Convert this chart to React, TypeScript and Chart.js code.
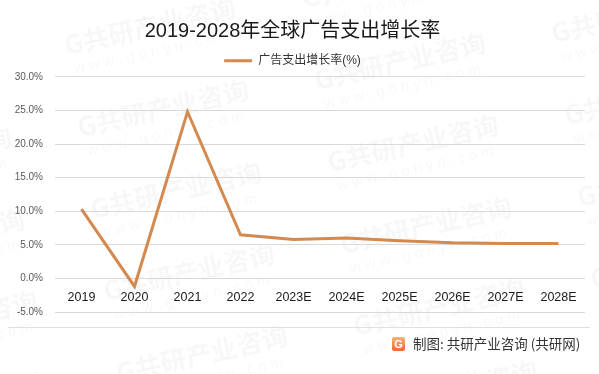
import React, { useEffect, useRef } from 'react';
import { Chart, registerables } from 'chart.js';

Chart.register(...registerables);

const categories = ['2019', '2020', '2021', '2022', '2023E', '2024E', '2025E', '2026E', '2027E', '2028E'];
const growthRates = [10.3, -1.2, 24.8, 6.5, 5.8, 6.0, 5.6, 5.3, 5.2, 5.2];
const yTicks = [-5, 0, 5, 10, 15, 20, 25, 30];
const titleText = '2019-2028年全球广告支出增长率';
const seriesLabel = '广告支出增长率(%)';
const sourceText = '制图: 共研产业咨询 (共研网)';
const watermarkMain = 'G共研产业咨询';
const watermarkSub = 'w w w . g o n y n . c o m';

const LINE_COLOR = '#D4894E';
const FONT = "'Liberation Sans', 'Noto Sans CJK SC', sans-serif";
const CJK_FONT = "'Noto Sans CJK SC', 'Liberation Sans', sans-serif";

const watermarkPlugin = {
  id: 'watermark',
  beforeDraw(chart: any) {
    const ctx = chart.ctx as CanvasRenderingContext2D;
    ctx.save();
    ctx.fillStyle = 'rgba(0,0,0,0.03)';
    const angle = (-12.7 * Math.PI) / 180;
    for (let c = -2; c <= 3; c++) {
      for (let r = -2; r <= 6; r++) {
        const x = 80 + c * 237 + r * 13;
        const y = 137 - c * 47 + r * 82;
        if (x < -250 || x > 640 || y < -40 || y > 460) continue;
        ctx.save();
        ctx.translate(x, y);
        ctx.rotate(angle);
        ctx.font = `bold 26px ${CJK_FONT}`;
        ctx.textBaseline = 'alphabetic';
        ctx.fillText(watermarkMain, 0, 0);
        ctx.font = `15px ${FONT}`;
        ctx.fillText(watermarkSub, 4, 20);
        ctx.restore();
      }
    }
    ctx.restore();
  },
};

const footerPlugin = {
  id: 'footer',
  afterDraw(chart: any) {
    const ctx = chart.ctx as CanvasRenderingContext2D;
    ctx.save();
    ctx.strokeStyle = '#E0E0E0';
    ctx.lineWidth = 1;
    ctx.beginPath();
    ctx.moveTo(8, 327.5);
    ctx.lineTo(590, 327.5);
    ctx.stroke();

    const lx = 392, ly = 337, lw = 13, lh = 14;
    const g = ctx.createLinearGradient(lx, ly, lx, ly + lh);
    g.addColorStop(0, '#F9B27A');
    g.addColorStop(1, '#EE6A2E');
    ctx.fillStyle = g;
    ctx.beginPath();
    (ctx as any).roundRect ? (ctx as any).roundRect(lx, ly, lw, lh, 2) : ctx.rect(lx, ly, lw, lh);
    ctx.fill();
    ctx.fillStyle = '#fff';
    ctx.font = `bold 11px ${FONT}`;
    ctx.textAlign = 'center';
    ctx.textBaseline = 'middle';
    ctx.fillText('G', lx + lw / 2, ly + lh / 2 + 0.5);

    ctx.fillStyle = '#333333';
    ctx.font = `13.5px ${CJK_FONT}`;
    ctx.textAlign = 'left';
    ctx.textBaseline = 'middle';
    ctx.fillText(sourceText, 413, 344);
    ctx.restore();
  },
};

export default function App() {
  const ref = useRef<HTMLCanvasElement>(null);
  useEffect(() => {
    document.body.style.margin = '0';
    Chart.defaults.font.family = FONT;
    const chart = new Chart(ref.current as HTMLCanvasElement, {
      type: 'line',
      data: {
        labels: categories,
        datasets: [
          {
            label: seriesLabel,
            data: growthRates,
            borderColor: LINE_COLOR,
            backgroundColor: LINE_COLOR,
            borderWidth: 3,
            pointRadius: 0,
            tension: 0,
          },
        ],
      },
      options: {
        animation: false,
        responsive: true,
        maintainAspectRatio: false,
        layout: { padding: { top: 0, left: 0, right: 14, bottom: 62 } },
        plugins: {
          title: {
            display: true,
            text: titleText,
            color: '#1a1a1a',
            font: { size: 20, weight: 'normal', family: FONT },
            padding: { top: 19, bottom: 7 },
          },
          legend: {
            display: true,
            position: 'top',
            labels: {
              boxWidth: 28,
              boxHeight: 0,
              padding: 4.8,
              color: '#333333',
              font: { size: 12, family: FONT },
            },
          },
          tooltip: { enabled: false },
        },
        scales: {
          x: {
            position: { y: 0 } as any,
            offset: true,
            grid: { display: false, drawTicks: false, offset: true },
            border: { display: false },
            ticks: {
              color: '#1a1a1a',
              font: { size: 12.5 },
              padding: 12,
              maxRotation: 0,
              autoSkip: false,
            },
          },
          y: {
            min: -5,
            max: 30,
            grid: { color: '#D9D9D9', drawTicks: false },
            border: { display: false },
            afterBuildTicks: (scale: any) => {
              scale.ticks = yTicks.map((v) => ({ value: v }));
            },
            afterFit: (scale: any) => {
              scale.width = 55;
            },
            ticks: {
              padding: 12,
              color: '#595959',
              font: { size: 10 },
              callback: (v: any) => Number(v).toFixed(1) + '%',
            },
          },
        },
      },
      plugins: [watermarkPlugin, footerPlugin],
    } as any);
    return () => chart.destroy();
  }, []);
  return (
    <div style={{ width: 599, height: 374, position: 'relative', background: '#fff' }}>
      <canvas ref={ref} />
    </div>
  );
}
